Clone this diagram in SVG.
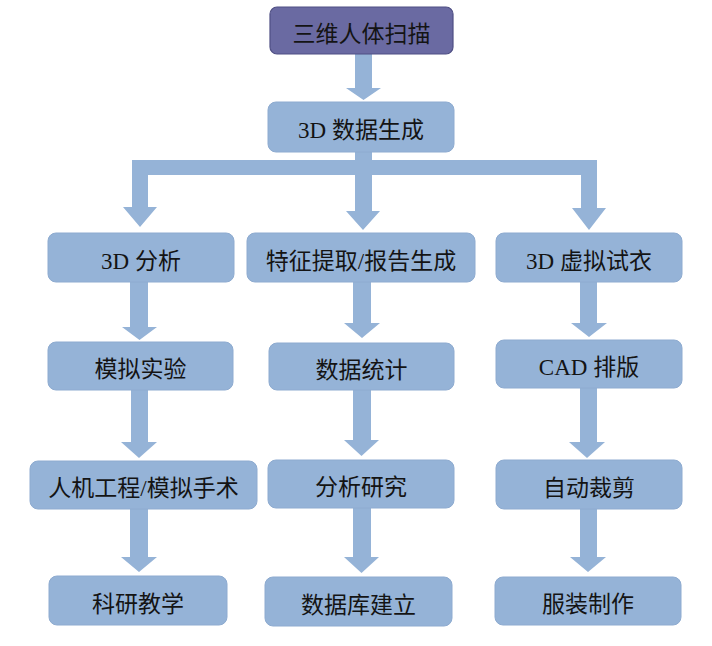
<svg xmlns="http://www.w3.org/2000/svg" width="712" height="646" viewBox="0 0 712 646">
<style>
.box{fill:#95b3d7;stroke:#8eabd0;stroke-width:1}
.top{fill:#6a6aa2;stroke:#4f4f84;stroke-width:1.2}
.arr{fill:#95b3d7}
text{font-family:"Liberation Serif","Noto Sans CJK SC",serif;font-size:23px;fill:#141414;text-anchor:middle;dominant-baseline:central}
</style>
<rect width="712" height="646" fill="#ffffff"/>
<g id="connectors">
<polygon class="arr" points="355,54 372,54 372,88 381,88 363.5,100 346,88 355,88"/>
<polygon class="arr" points="355,151 355,160 132,160 132,207 123,207 140,227 157,207 148,207 148,175 355,175 355,211 346,211 363,230 380,211 372,211 372,175 581,175 581,208 572,208 589,230 606,208 597,208 597,160 372,160 372,151"/>
<polygon class="arr" points="130,282 148,282 148,327 157,327 139.5,340 122,327 130,327"/>
<polygon class="arr" points="131,390 148,390 148,442 157,442 139,458 121,442 131,442"/>
<polygon class="arr" points="130,509 148,509 148,557 157,557 139,572 121,557 130,557"/>
<polygon class="arr" points="353,282 371,282 371,323 380,323 362,338 344,323 353,323"/>
<polygon class="arr" points="353,390 371,390 371,440 379,440 361.5,456 344,440 353,440"/>
<polygon class="arr" points="353,508 371,508 371,557 379,557 361.5,573 344,557 353,557"/>
<polygon class="arr" points="580,282 597,282 597,323 607,323 589,337 571,323 580,323"/>
<polygon class="arr" points="580,388 597,388 597,442 605,442 587,458 569,442 580,442"/>
<polygon class="arr" points="580,509 597,509 597,557 606,557 588,572 570,557 580,557"/>
</g>
<g id="n1"><rect class="top" x="270" y="7" width="183" height="47" rx="7"/><text x="361.5" y="34">三维人体扫描</text></g>
<g id="n2"><rect class="box" x="268" y="102" width="186" height="50" rx="8"/><text x="361" y="130">3D 数据生成</text></g>
<g id="n3"><rect class="box" x="48" y="233" width="186" height="49" rx="8"/><text x="141" y="261">3D 分析</text></g>
<g id="n4"><rect class="box" x="247" y="233" width="228" height="49" rx="8"/><text x="361" y="261">特征提取/报告生成</text></g>
<g id="n5"><rect class="box" x="496" y="233" width="186" height="49" rx="8"/><text x="589" y="261">3D 虚拟试衣</text></g>
<g id="n6"><rect class="box" x="48" y="342" width="185" height="48" rx="8"/><text x="140.5" y="369">模拟实验</text></g>
<g id="n7"><rect class="box" x="269" y="343" width="185" height="47" rx="8"/><text x="361.5" y="370">数据统计</text></g>
<g id="n8"><rect class="box" x="496" y="340" width="186" height="48" rx="8"/><text x="589" y="367">CAD 排版</text></g>
<g id="n9"><rect class="box" x="30" y="461" width="227" height="48" rx="8"/><text x="143.5" y="488">人机工程/模拟手术</text></g>
<g id="n10"><rect class="box" x="268" y="460" width="186" height="48" rx="8"/><text x="361" y="487">分析研究</text></g>
<g id="n11"><rect class="box" x="496" y="460" width="186" height="49" rx="8"/><text x="589" y="488">自动裁剪</text></g>
<g id="n12"><rect class="box" x="49" y="576" width="178" height="49" rx="8"/><text x="138" y="604">科研教学</text></g>
<g id="n13"><rect class="box" x="265" y="577" width="187" height="49" rx="8"/><text x="358.5" y="605">数据库建立</text></g>
<g id="n14"><rect class="box" x="495" y="577" width="186" height="48" rx="8"/><text x="588" y="604">服装制作</text></g>
</svg>
